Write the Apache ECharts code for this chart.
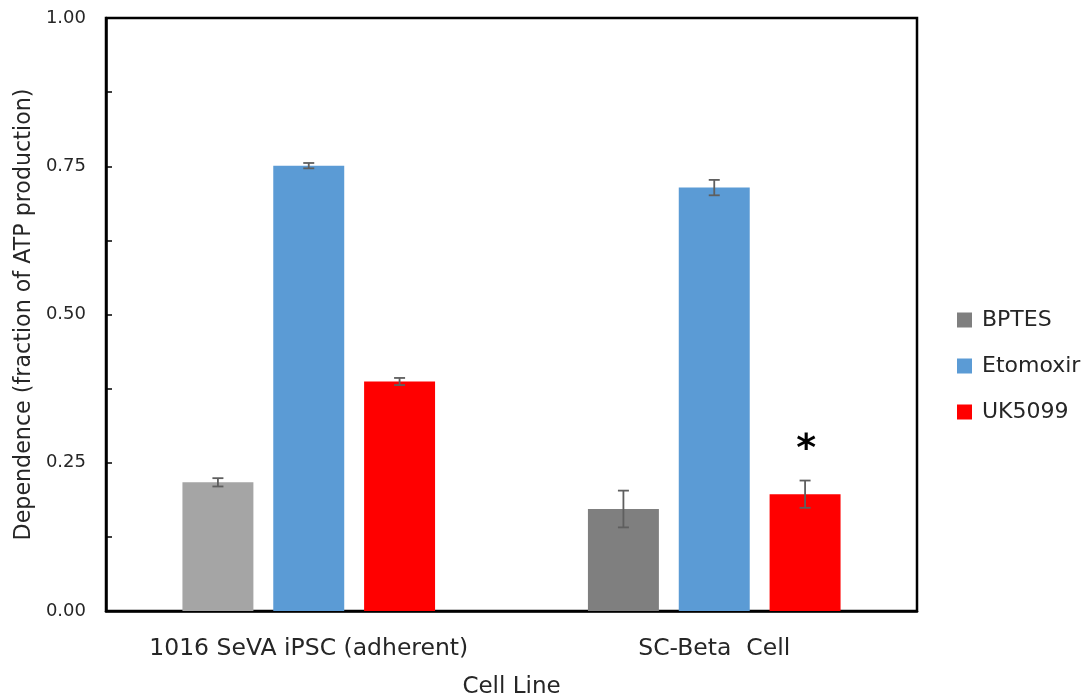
<!DOCTYPE html>
<html><head><meta charset="utf-8">
<script src="https://cdn.jsdelivr.net/npm/echarts@6/dist/echarts.min.js"></script>
<style>html,body{margin:0;padding:0;background:#fff}#c{width:1091px;height:700px}</style>
</head><body><div id="c"></div>
<script>
const categories = ['1016 SeVA iPSC (adherent)', 'SC-Beta  Cell'];
const seriesNames = ['BPTES', 'Etomoxir', 'UK5099'];
const bptes = [0.217, 0.172];
const etomoxir = [0.751, 0.714];
const uk5099 = [0.387, 0.197];
const bptesErr = [0.007, 0.031];
const etomoxirErr = [0.0045, 0.013];
const uk5099Err = [0.006, 0.023];
const significance = [['', ''], ['', ''], ['', '*']];
const yTicks = [0, 0.25, 0.5, 0.75, 1.0];

const FONT = '"DejaVu Sans"';
const TXT = '#262626';
const values = [bptes, etomoxir, uk5099];
const errs = [bptesErr, etomoxirErr, uk5099Err];
const colors = ['#7f7f7f', '#5b9bd5', '#ff0000'];
const BARW = 0.175, GAP = 0.28;

const chart = echarts.init(document.getElementById('c'));
const series = [];
values.forEach((vals, si) => {
  series.push({
    name: seriesNames[si], type: 'bar', barWidth: (BARW * 100) + '%', barGap: (GAP * 100) + '%',
    data: vals.map((v, i) => (si === 0 && i === 0) ? { value: v, itemStyle: { color: '#a5a5a5' } } : v),
    itemStyle: { color: colors[si] }, z: 2
  });
});
values.forEach((vals, si) => {
  series.push({
    type: 'custom', name: seriesNames[si] + ' err', z: 5, silent: true,
    data: vals.map((v, i) => [i, v, errs[si][i]]),
    renderItem: function (params, api) {
      const ci = api.value(0), v = api.value(1), e = api.value(2);
      const band = api.size([1, 0])[0];
      const bw = band * BARW;
      const off = (si - 1) * bw * (1 + GAP);
      const base = api.coord([ci, v]);
      const x = base[0] + off;
      const top = api.coord([ci, v + e])[1];
      const bot = api.coord([ci, v - e])[1];
      const st = { stroke: '#5f5f5f', lineWidth: 1.8 };
      const cap = 5.5;
      const children = [
        { type: 'line', shape: { x1: x, y1: top, x2: x, y2: bot }, style: st },
        { type: 'line', shape: { x1: x - cap, y1: top, x2: x + cap, y2: top }, style: st },
        { type: 'line', shape: { x1: x - cap, y1: bot, x2: x + cap, y2: bot }, style: st }
      ];
      const mark = significance[si][ci];
      if (mark) {
        children.push({ type: 'text', x: x + 1, y: top - 30, style: { text: mark, font: 'bold 38px ' + FONT, fill: '#000', align: 'center', verticalAlign: 'middle' } });
      }
      return { type: 'group', children: children };
    }
  });
});

chart.setOption({
  animation: false,
  backgroundColor: '#fff',
  grid: { left: 106, top: 18, right: 174, bottom: 89, show: true, borderColor: '#000', borderWidth: 2.5, containLabel: false, outerBoundsMode: 'none' },
  legend: {
    data: seriesNames, orient: 'vertical', left: 952, top: 304, itemWidth: 15, itemHeight: 15, itemGap: 24,
    icon: 'rect', textStyle: { fontFamily: FONT, fontSize: 22, color: TXT, padding: [0, 0, 0, 5] }
  },
  xAxis: {
    type: 'category', data: categories, name: 'Cell Line', nameLocation: 'middle', nameGap: 65,
    nameTextStyle: { fontFamily: FONT, fontSize: 23, color: TXT },
    axisLine: { lineStyle: { color: '#000', width: 2.5 } }, axisTick: { show: false },
    axisLabel: { interval: 0, hideOverlap: false, fontFamily: FONT, fontSize: 23.5, color: TXT, margin: 26 }
  },
  yAxis: {
    type: 'value', min: 0, max: 1, interval: 0.125,
    name: 'Dependence (fraction of ATP production)', nameLocation: 'middle', nameGap: 70,
    nameTextStyle: { fontFamily: FONT, fontSize: 22.2, color: TXT },
    axisLine: { show: true, lineStyle: { color: '#000', width: 2.5 } },
    axisTick: { show: true, inside: true, length: 6, lineStyle: { color: '#000', width: 1.5 } },
    splitLine: { show: false },
    axisLabel: {
      fontFamily: FONT, fontSize: 18, color: TXT, margin: 20,
      formatter: v => yTicks.some(t => Math.abs(t - v) < 1e-9) ? v.toFixed(2) : ''
    }
  },
  series: series
});
</script></body></html>
